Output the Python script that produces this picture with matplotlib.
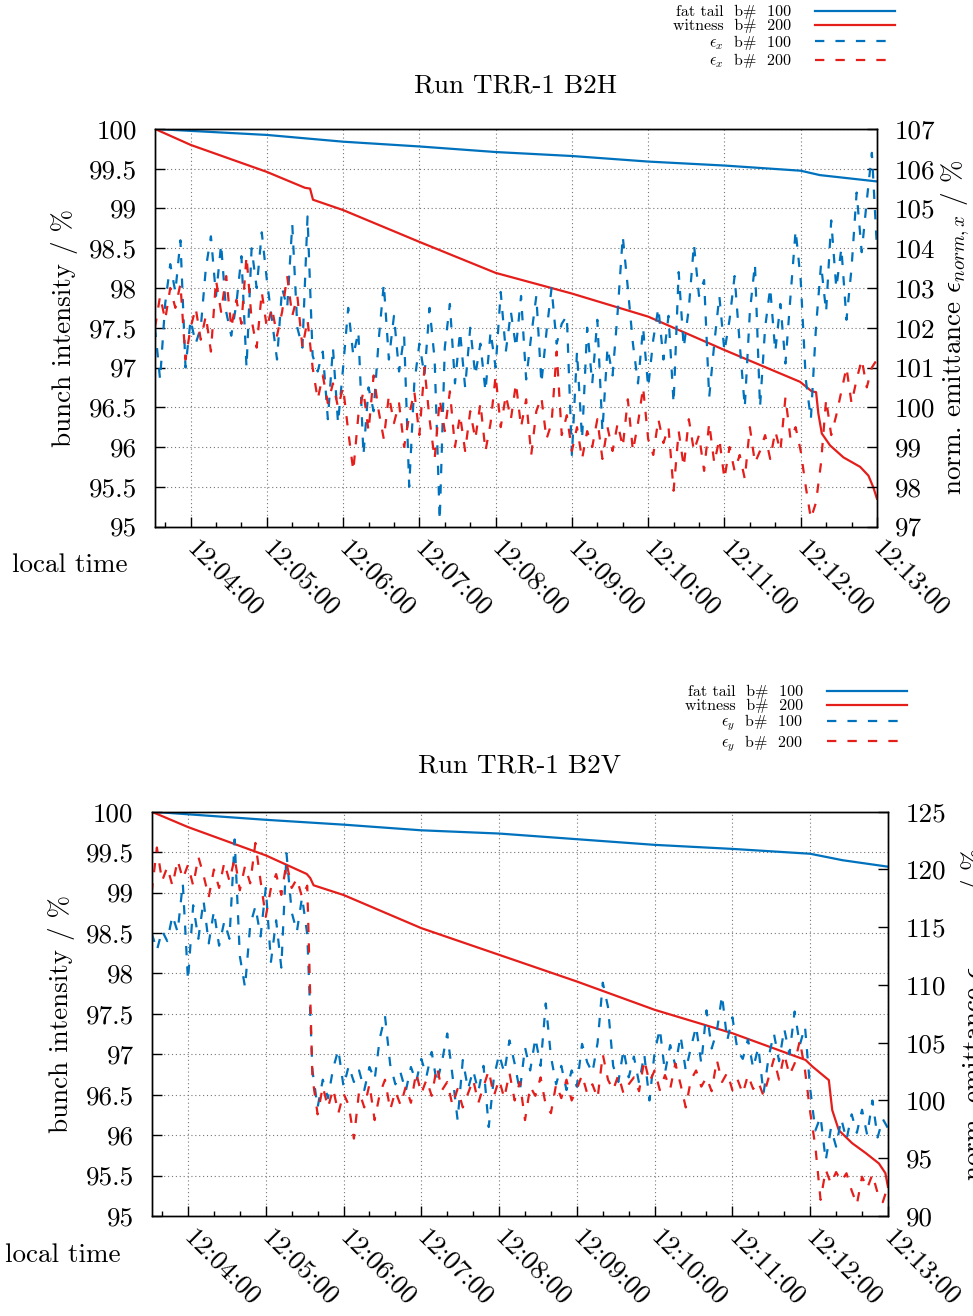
import numpy as np
import matplotlib
matplotlib.use('Agg')
import matplotlib.pyplot as plt
import matplotlib.dates as mdates
from matplotlib.ticker import MultipleLocator, FormatStrFormatter

plt.rcParams['font.family'] = ['cmr10', 'DejaVu Serif']
plt.rcParams['mathtext.fontset'] = 'cm'
plt.rcParams['axes.formatter.use_mathtext'] = True
plt.rcParams['axes.unicode_minus'] = False

BLUE = '#0072bd'
RED = '#e41e1a'
FS = 19.5

# seconds after 12:03:00
T_START, T_END = 32, 600

# bunch intensity, breakpoints (s, %)
h_fat_t = [32, 120, 180, 240, 300, 360, 420, 480, 540, 555, 600]
h_fat = [100, 99.925, 99.84, 99.78, 99.71, 99.66, 99.59, 99.54, 99.475, 99.42, 99.34]
h_wit_t = [32, 60, 120, 150, 154, 156.3, 180, 240, 300, 360, 420, 480, 539.5,
           548.7, 552.1, 553.9, 556.6, 563.1, 573.6, 586.8, 593.3, 597.2, 600]
h_wit = [100, 99.80, 99.46, 99.26, 99.25, 99.11, 98.98, 98.58, 98.19, 97.93, 97.64,
         97.22, 96.82, 96.70, 96.69, 96.42, 96.17, 96.02, 95.87, 95.75, 95.64,
         95.49, 95.35]

v_fat_t = [32, 120, 180, 240, 300, 360, 420, 480, 540, 565, 600]
v_fat = [100, 99.90, 99.84, 99.77, 99.73, 99.66, 99.59, 99.54, 99.48, 99.40, 99.32]
v_wit_t = [32, 60, 120, 151.6, 154.3, 156.9, 180, 240, 300, 360, 420, 480, 536.4,
           541.6, 554.4, 557, 562.1, 572.4, 582.7, 593, 598, 600]
v_wit = [100, 99.81, 99.46, 99.23, 99.18, 99.09, 98.97, 98.56, 98.23, 97.90, 97.55,
         97.26, 96.93, 96.85, 96.68, 96.31, 96.06, 95.90, 95.78, 95.65, 95.53, 95.36]

# emittance samples every 4 s from 12:03:32
emit_t = np.arange(T_START, T_END + 1, 4)

ex_b100 = [
    102.0, 100.7, 102.6, 103.6, 102.9, 104.2, 101.0, 102.2, 101.6, 102.0,
    103.5, 104.3, 102.8, 104.1, 102.4, 101.8, 102.6, 103.8, 101.0, 104.0,
    103.0, 104.4, 103.2, 102.2, 101.2, 103.0, 102.5, 104.6, 102.0, 101.5,
    104.8, 101.3, 100.9, 101.4, 99.7, 101.5, 99.6, 101.0, 102.5, 101.3,
    101.9, 98.8, 100.5, 99.9, 101.7, 103.1, 101.2, 102.3, 100.9, 101.8,
    98.0, 100.6, 101.6, 100.8, 102.5, 101.2, 97.15, 101.5, 102.6, 100.6,
    101.9, 100.5, 102.0, 100.8, 101.6, 100.4, 101.9, 101.0, 102.9, 101.4,
    102.4, 101.5, 102.8, 100.7, 101.8, 102.8, 100.6, 101.9, 103.0, 101.6,
    102.1, 102.3, 98.8, 101.4, 99.2, 102.0, 100.6, 102.2, 99.4, 101.5,
    100.8, 102.4, 104.3, 103.0, 101.6, 100.6, 102.0, 100.5, 101.7, 102.5,
    101.2, 102.3, 100.1, 103.4, 101.5, 102.5, 104.1, 102.8, 103.2, 100.25,
    101.6, 102.8, 101.4, 102.2, 103.3, 101.6, 100.0, 102.4, 103.6, 100.0,
    102.0, 103.0, 101.4, 102.6, 101.1, 102.8, 104.45, 103.2, 100.7, 99.7,
    102.0, 103.6, 102.4, 104.7, 103.0, 104.0, 102.2, 103.5, 105.4, 103.9,
    105.2, 106.4, 104.0]

ex_b200 = [
    102.0, 102.8, 102.2, 103.0, 102.5, 103.1, 101.2, 102.0, 102.5, 101.7,
    102.3, 101.4, 103.2, 102.4, 103.3, 102.0, 102.7, 102.1, 103.8, 102.2,
    101.5, 102.9, 102.0, 102.5, 101.8, 102.4, 103.3, 102.3, 102.8, 101.5,
    102.2, 101.0, 100.2, 100.8, 100.1, 100.6, 100.0, 100.5, 99.4, 98.4,
    99.8, 100.4, 99.4, 100.8, 99.9, 99.2, 100.3, 99.6, 100.1, 99.0,
    99.8, 100.4, 99.3, 101.0, 99.7, 98.7, 100.2, 99.4, 100.4, 99.0,
    99.8, 98.9, 99.9, 99.2, 100.1, 98.9, 99.6, 100.8, 99.5, 100.3,
    99.7, 100.6, 99.5, 100.2, 98.8, 99.9, 100.25, 99.2, 99.6, 101.4,
    99.3, 99.8, 98.9, 99.5, 98.7, 99.4, 99.0, 99.7, 98.7, 99.5,
    98.9, 99.6, 99.0, 100.2, 98.9, 99.6, 100.5, 99.2, 98.8, 99.7,
    99.1, 99.5, 97.9, 99.4, 98.5, 99.7, 98.9, 99.3, 98.4, 99.6,
    98.6, 99.2, 98.2, 99.0, 98.4, 98.8, 98.2, 99.5, 98.6, 98.9,
    99.3, 98.7, 99.4, 98.9, 100.25, 99.2, 99.5, 98.9, 98.0, 97.2,
    97.6, 98.6, 100.2, 99.3, 99.8, 100.4, 101.0, 100.1, 100.7, 101.2,
    100.5, 101.0, 101.2]

ey_b100 = [
    114.5, 113.0, 114.7, 113.8, 116.0, 114.6, 118.8, 110.4, 116.9, 114.0,
    117.3, 113.6, 116.4, 113.4, 115.5, 114.0, 122.6, 112.5, 109.8, 115.2,
    116.8, 114.2, 118.4, 112.0, 115.6, 111.5, 121.4, 116.3, 114.6, 117.6,
    114.4, 102.6, 99.4, 101.8, 100.2, 102.8, 104.4, 101.2, 103.0, 101.6,
    102.6, 100.9, 102.9, 101.8, 105.4, 107.3, 103.1, 101.4, 102.4, 100.8,
    102.9, 101.6, 103.6, 102.1, 104.2, 101.5, 103.4, 105.8, 102.2, 98.3,
    103.5, 101.0, 102.6, 100.8, 103.0, 97.7, 102.0, 104.0, 102.4, 105.2,
    103.2, 100.8, 104.6, 102.6, 105.4, 103.0, 108.4, 103.8, 101.4, 103.0,
    100.9, 102.6, 101.2, 104.9, 103.3, 102.4, 105.0, 110.2, 108.1, 103.0,
    101.6, 104.4, 102.0, 103.8, 101.5, 104.0, 100.0, 104.2, 106.2, 102.4,
    104.8, 103.0, 105.6, 102.6, 104.6, 106.4, 103.2, 107.8, 104.5, 106.0,
    109.1, 105.2, 107.2, 104.3, 103.6, 105.3, 102.8, 104.6, 100.6, 103.8,
    105.8, 103.4, 106.2, 104.0, 107.7, 104.8, 106.4, 101.0, 97.4, 98.6,
    94.8, 97.6, 96.0, 98.4, 96.6, 98.8, 97.2, 99.2, 97.0, 100.0,
    96.8, 98.4, 97.6]

ey_b200 = [
    118.0, 121.9, 119.0, 120.2, 118.6, 120.8, 119.2, 120.4, 118.6, 121.1,
    119.5, 117.6, 120.0, 118.4, 120.6, 119.0, 121.0, 118.2, 120.3, 118.8,
    122.3, 119.0, 115.9, 118.4, 119.6, 117.8, 120.6, 118.4, 119.2, 117.6,
    118.6, 102.0, 98.8, 101.2, 99.4, 101.0, 98.9, 100.6, 99.6, 96.7,
    100.8, 99.4, 101.4, 98.3, 100.6, 101.8, 99.2, 100.8, 99.6, 101.2,
    99.8, 102.4, 100.6, 101.8, 100.4, 102.9, 100.9, 101.6, 99.6, 101.0,
    99.4, 100.6, 101.8, 99.8, 101.2, 102.6, 100.4, 101.8, 100.2, 102.4,
    100.0, 101.6, 98.3, 101.2, 100.4, 102.0, 99.6, 98.9, 101.4, 100.2,
    101.8, 100.0, 101.0, 102.2, 100.6, 101.4, 100.2, 104.0, 101.8, 100.9,
    102.2, 100.6, 101.4, 102.0, 100.8, 103.5, 101.6, 102.6, 100.9, 102.2,
    101.0, 103.2, 101.4, 99.4, 101.8, 102.6, 101.2, 102.0, 100.8, 103.5,
    101.6, 102.4, 100.9, 101.8, 100.6, 102.2, 101.0, 101.6, 100.4, 102.0,
    103.6, 101.8, 104.0, 102.2, 103.2, 105.2, 102.6, 99.0, 96.0, 91.4,
    94.0, 92.8, 93.8, 93.0, 93.7, 92.2, 91.0, 93.4, 92.4, 93.6,
    92.0, 91.2, 92.6]

T0 = np.datetime64('2018-06-01T12:03:00')


def clock(sec):
    return T0 + (np.asarray(sec, dtype=float) * 1000).astype('timedelta64[ms]')


def draw_panel(ax, title, fat_t, fat, wit_t, wit, e100, e200, elim, estep, elabel,
               tpad, lx, rx):
    ax.plot(clock(fat_t), fat, color=BLUE, lw=1.6, label='fat tail  b#  100')
    ax.plot(clock(wit_t), wit, color=RED, lw=1.6, label='witness  b#  200')
    ax2 = ax.twinx()
    sub = elabel.split(',')[1]
    ax2.plot(clock(emit_t), e100, color=BLUE, lw=1.6, dashes=(4.2, 5.0),
             label=r'$\epsilon_%s$  b#  100' % sub)
    ax2.plot(clock(emit_t), e200, color=RED, lw=1.6, dashes=(4.2, 5.0),
             label=r'$\epsilon_%s$  b#  200' % sub)

    ax.set_xlim(clock(T_START), clock(T_END))
    ax.set_ylim(95, 100)
    ax2.set_ylim(*elim)
    ax.yaxis.set_major_locator(MultipleLocator(0.5))
    ax.yaxis.set_major_formatter(FormatStrFormatter('%g'))
    ax2.yaxis.set_major_locator(MultipleLocator(estep))
    ax2.yaxis.set_major_formatter(FormatStrFormatter('%g'))
    ax.xaxis.set_major_locator(mdates.MinuteLocator())
    ax.xaxis.set_minor_locator(mdates.SecondLocator(bysecond=[20, 40]))
    ax.xaxis.set_major_formatter(mdates.DateFormatter('%H:%M:%S'))

    ax.grid(True, which='major', ls=(0, (1, 2.5)), color='#777777', lw=0.8)
    ax.tick_params(which='both', direction='in', top=False, right=False,
                   labelsize=FS, width=1.0)
    ax.tick_params(axis='y', length=7.2, pad=13)
    ax.tick_params(axis='x', which='major', length=7.2, pad=13)
    ax.tick_params(axis='x', which='minor', length=3.6)
    ax2.tick_params(direction='in', length=7.2, width=1.0, pad=13, labelsize=FS)
    for lab in ax.get_xticklabels():
        lab.set(rotation=-45, ha='left', va='center', rotation_mode='anchor')
    for a in (ax, ax2):
        for s in a.spines.values():
            s.set_linewidth(1.0)

    ax.set_title(title, fontsize=FS, pad=tpad)
    ax.set_ylabel('bunch intensity / %', fontsize=FS)
    ax.yaxis.set_label_coords(lx, 0.5)
    ax2.set_ylabel(r'norm. emittance $\epsilon_{%s}$ / %%' % elabel, fontsize=FS)
    ax2.yaxis.set_label_coords(rx, 0.5)
    return ax2


fig = plt.figure(figsize=(9.73, 13.16), dpi=100)
ax_h = fig.add_axes([0.1593, 0.5999, 0.7420, 0.3021])
ax_v = fig.add_axes([0.1559, 0.0760, 0.7567, 0.3072])

ax_h2 = draw_panel(ax_h, 'Run TRR-1 B2H', h_fat_t, h_fat, h_wit_t, h_wit,
                   ex_b100, ex_b200, (97, 107), 1, 'norm,x', 26.5, -0.1066, 1.087)
ax_v2 = draw_panel(ax_v, 'Run TRR-1 B2V', v_fat_t, v_fat, v_wit_t, v_wit,
                   ey_b100, ey_b200, (90, 125), 5, 'norm,y', 28, -0.104, 1.097)

fig.text(12 / 973, 1 - 565 / 1316, 'local time', fontsize=FS, ha='left', va='center')
fig.text(5 / 973, 1 - 1255 / 1316, 'local time', fontsize=FS, ha='left', va='center')

for ax, ax2, anchor in ((ax_h, ax_h2, (895 / 973, 1 - 5 / 1316)),
                        (ax_v, ax_v2, (907 / 973, 1 - 685 / 1316))):
    h1, l1 = ax.get_legend_handles_labels()
    h2, l2 = ax2.get_legend_handles_labels()
    fig.legend(h1 + h2, l1 + l2, loc='upper right', bbox_to_anchor=anchor,
               bbox_transform=fig.transFigure, frameon=False, markerfirst=False,
               fontsize=11.5, handlelength=5.0, handletextpad=1.5,
               labelspacing=-0.02, borderpad=0, borderaxespad=0)

fig.savefig('out.png', dpi=100)
